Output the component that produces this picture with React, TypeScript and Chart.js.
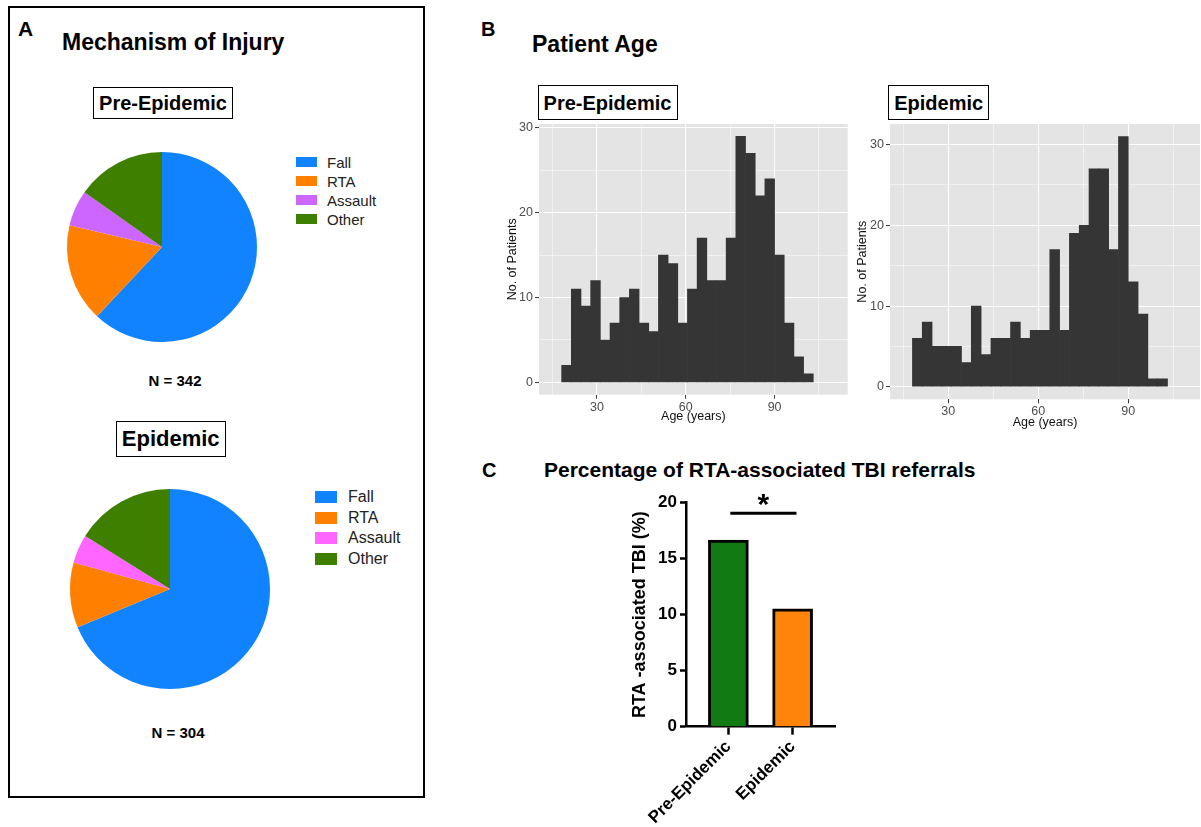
import React, { useEffect, useRef } from "react";
import { Chart, registerables } from "chart.js";

Chart.register(...registerables);

const FONT = "'Liberation Sans', Arial, Helvetica, sans-serif";
Chart.defaults.font.family = FONT;

// ---------- Panel A: mechanism of injury ----------
const injuryLabels = ["Fall", "RTA", "Assault", "Other"];
const preInjuryCounts = [212, 57, 21, 52];
const epiInjuryCounts = [209, 32, 14, 49];
const preInjuryColors = ["#1183FF", "#FF8000", "#CC66FF", "#3F7F00"];
const epiInjuryColors = ["#1183FF", "#FF8000", "#FF66FF", "#3F7F00"];
const preTotal = 342;
const epiTotal = 304;

// ---------- Panel B: patient age histograms ----------
const AGE_BIN_START = 18.05;
const AGE_BIN_WIDTH = 3.27;
const preAgeCounts = [2, 11, 9, 12, 5, 7, 10, 11, 7, 6, 15, 14, 7, 11, 17, 12, 12, 17, 29, 27, 22, 24, 15, 7, 3, 1];
const epiAgeCounts = [6, 8, 5, 5, 5, 3, 10, 4, 6, 6, 8, 6, 7, 7, 17, 7, 19, 20, 27, 27, 17, 31, 13, 9, 1, 1];
const ageTicks = [15, 30, 45, 60, 75, 90, 105];
const ageMajorTicks = [30, 60, 90];
const countTicks = [0, 5, 10, 15, 20, 25, 30];
const countMajorTicks = [0, 10, 20, 30];

// ---------- Panel C: RTA percentage ----------
const periodLabels = ["Pre-Epidemic", "Epidemic"];
const rtaPercent = [16.67, 10.53];
const rtaColors = ["#127A12", "#FF840C"];
const rtaTicks = [0, 5, 10, 15, 20];
const sigFrom = 0.03;
const sigTo = 1.06;
const sigLevel = 19.05;
const sigLabel = "*";

function ChartBox({ left, top, width, height, make }: any) {
  const ref = useRef<HTMLCanvasElement>(null);
  useEffect(() => {
    const chart = new Chart(ref.current as HTMLCanvasElement, make());
    return () => chart.destroy();
  }, []);
  return (
    <div style={{ position: "absolute", left, top, width, height }}>
      <canvas ref={ref} width={width} height={height} style={{ display: "block", width, height }} />
    </div>
  );
}

function Text({ left, top, size, children, bold = true, width, align }: any) {
  return (
    <div
      style={{
        position: "absolute",
        left,
        top,
        width,
        textAlign: align,
        fontSize: size,
        lineHeight: 1,
        fontWeight: bold ? "bold" : "normal",
        whiteSpace: "nowrap",
        color: "#000",
      }}
    >
      {children}
    </div>
  );
}

function TitleBox({ left, top, width, height, size, children }: any) {
  return (
    <div
      style={{
        position: "absolute",
        left,
        top,
        width,
        height,
        boxSizing: "border-box",
        border: "1.5px solid #000",
        display: "flex",
        alignItems: "center",
        justifyContent: "center",
        fontSize: size,
        lineHeight: 1,
        fontWeight: "bold",
        whiteSpace: "nowrap",
      }}
    >
      {children}
    </div>
  );
}

function Legend({ left, top, step, boxW, boxH, gap, size, labels, colors }: any) {
  return (
    <div style={{ position: "absolute", left, top }}>
      {labels.map((l: string, i: number) => (
        <div key={l} style={{ height: step, display: "flex", alignItems: "center" }}>
          <div style={{ width: boxW, height: boxH, background: colors[i], marginRight: gap }} />
          <span style={{ fontSize: size, lineHeight: 1, color: "#222" }}>{l}</span>
        </div>
      ))}
    </div>
  );
}

function pieConfig(counts: number[], colors: string[], radius: number): any {
  return {
    type: "pie",
    data: {
      labels: injuryLabels,
      datasets: [{ data: counts, backgroundColor: colors, borderWidth: 0, hoverOffset: 0 }],
    },
    options: {
      animation: false,
      responsive: false,
      events: [],
      radius,
      layout: { padding: 0 },
      plugins: { legend: { display: false }, tooltip: { enabled: false } },
    },
  };
}

const panelBg = {
  id: "panelBg",
  beforeDraw(chart: any) {
    const { ctx, chartArea: a } = chart;
    ctx.save();
    ctx.fillStyle = "#E4E4E4";
    ctx.fillRect(a.left, a.top, a.right - a.left, a.bottom - a.top);
    ctx.restore();
  },
};

function histConfig(counts: number[], o: any): any {
  const data = counts.map((c, i) => ({ x: AGE_BIN_START + AGE_BIN_WIDTH * (i + 0.5), y: c }));
  return {
    type: "bar",
    data: {
      datasets: [
        {
          data,
          backgroundColor: "#353535",
          borderWidth: 0,
          barPercentage: 1,
          categoryPercentage: 1,
        },
      ],
    },
    plugins: [panelBg],
    options: {
      animation: false,
      responsive: false,
      events: [],
      layout: { padding: o.padding },
      plugins: { legend: { display: false }, tooltip: { enabled: false } },
      scales: {
        x: {
          type: "linear",
          offset: false,
          min: o.xMin,
          max: o.xMax,
          afterBuildTicks: (s: any) => {
            s.ticks = ageTicks.map((v) => ({ value: v }));
          },
          ticks: {
            autoSkip: false,
            maxRotation: 0,
            minRotation: 0,
            padding: 1,
            color: "#4D4D4D",
            font: { size: 12.5 },
            callback: (v: number) => (ageMajorTicks.includes(v) ? String(v) : ""),
          },
          grid: {
            offset: false,
            color: "#FFFFFF",
            lineWidth: (c: any) => (ageMajorTicks.includes(c.tick?.value) ? 1.1 : 0.5),
            tickColor: (c: any) => (ageMajorTicks.includes(c.tick?.value) ? "#333333" : "rgba(0,0,0,0)"),
            tickWidth: 1,
            tickLength: 4,
          },
          border: { display: false },
          title: { display: true, text: "Age (years)", color: "#111", font: { size: 12.5 }, padding: 0 },
          afterFit: (s: any) => {
            s.height = o.xHeight;
            s.paddingLeft = 0;
            s.paddingRight = 0;
          },
        },
        y: {
          min: o.yMin,
          max: o.yMax,
          afterBuildTicks: (s: any) => {
            s.ticks = countTicks.map((v) => ({ value: v }));
          },
          ticks: {
            padding: 2,
            color: "#4D4D4D",
            font: { size: 12.5 },
            callback: (v: number) => (countMajorTicks.includes(v) ? String(v) : ""),
          },
          grid: {
            color: "#FFFFFF",
            lineWidth: (c: any) => (countMajorTicks.includes(c.tick?.value) ? 1.1 : 0.5),
            tickColor: (c: any) => (countMajorTicks.includes(c.tick?.value) ? "#333333" : "rgba(0,0,0,0)"),
            tickWidth: 1,
            tickLength: 4,
          },
          border: { display: false },
          title: { display: true, text: "No. of Patients", color: "#111", font: { size: 12.5 }, padding: { top: o.yTitlePad } },
          afterFit: (s: any) => {
            s.width = o.yWidth;
            s.paddingTop = 0;
            s.paddingBottom = 0;
          },
        },
      },
    },
  };
}

const sigPlugin = {
  id: "sig",
  afterDraw(chart: any) {
    const { ctx } = chart;
    const xs = chart.scales.x;
    const ys = chart.scales.y;
    const y = ys.getPixelForValue(sigLevel);
    ctx.save();
    ctx.strokeStyle = "#000";
    ctx.lineWidth = 3;
    ctx.beginPath();
    ctx.moveTo(xs.getPixelForValue(sigFrom), y);
    ctx.lineTo(xs.getPixelForValue(sigTo), y);
    ctx.stroke();
    ctx.fillStyle = "#000";
    ctx.font = `bold 30px ${FONT}`;
    ctx.textAlign = "center";
    ctx.textBaseline = "alphabetic";
    ctx.fillText(sigLabel, xs.getPixelForValue((sigFrom + sigTo) / 2), y + 1);
    ctx.restore();
  },
};

function barConfig(): any {
  return {
    type: "bar",
    data: {
      datasets: [
        {
          data: rtaPercent.map((v, i) => ({ x: i, y: v })),
          backgroundColor: rtaColors,
          borderColor: "#000",
          borderWidth: 3,
          borderSkipped: "bottom",
          barThickness: 40,
        },
      ],
    },
    plugins: [sigPlugin],
    options: {
      animation: false,
      responsive: false,
      events: [],
      layout: { padding: { left: 0, top: 22.7, right: 15, bottom: 0 } },
      plugins: { legend: { display: false }, tooltip: { enabled: false } },
      scales: {
        x: {
          type: "linear",
          offset: false,
          min: -0.66,
          max: 1.66,
          afterBuildTicks: (s: any) => {
            s.ticks = periodLabels.map((_, i) => ({ value: i }));
          },
          ticks: {
            autoSkip: false,
            minRotation: 45,
            maxRotation: 45,
            padding: 2,
            color: "#000",
            font: { size: 17, weight: "bold" },
            callback: (v: number) => periodLabels[v] ?? "",
          },
          grid: { offset: false, drawOnChartArea: false, tickLength: 8, tickColor: "#000", tickWidth: 2.5 },
          border: { color: "#000", width: 2.5 },
          afterFit: (s: any) => {
            s.height = 98.3;
            s.paddingLeft = 0;
            s.paddingRight = 0;
          },
        },
        y: {
          min: 0,
          max: 20,
          afterBuildTicks: (s: any) => {
            s.ticks = rtaTicks.map((v) => ({ value: v }));
          },
          ticks: { padding: 3, color: "#000", font: { size: 17, weight: "bold" } },
          grid: { drawOnChartArea: false, tickLength: 6, tickColor: "#000", tickWidth: 2.5 },
          border: { color: "#000", width: 2.5 },
          title: {
            display: true,
            text: "RTA -associated TBI (%)",
            color: "#000",
            font: { size: 18, weight: "bold" },
            padding: { top: 29.2 },
          },
          afterFit: (s: any) => {
            s.width = 86;
            s.paddingTop = 0;
            s.paddingBottom = 0;
          },
        },
      },
    },
  };
}

export default function App() {
  return (
    <div
      style={{
        position: "fixed",
        left: 0,
        top: 0,
        width: 1201,
        height: 827,
        background: "#fff",
        fontFamily: FONT,
        overflow: "hidden",
      }}
    >
      {/* Panel A */}
      <div
        style={{
          position: "absolute",
          left: 8,
          top: 6,
          width: 417,
          height: 792,
          boxSizing: "border-box",
          border: "2.5px solid #000",
        }}
      />
      <Text left={18} top={18} size={21}>A</Text>
      <Text left={62} top={31} size={23}>Mechanism of Injury</Text>
      <TitleBox left={92.7} top={87.3} width={140.6} height={31.7} size={20}>Pre-Epidemic</TitleBox>
      <ChartBox left={62} top={147} width={200} height={200} make={() => pieConfig(preInjuryCounts, preInjuryColors, 95)} />
      <Legend left={296} top={152.8} step={19} boxW={21} boxH={10} gap={10} size={15} labels={injuryLabels} colors={preInjuryColors} />
      <Text left={125} top={373} width={100} align="center" size={15}>{`N = ${preTotal}`}</Text>
      <TitleBox left={115.7} top={420.7} width={110} height={36} size={22}>Epidemic</TitleBox>
      <ChartBox left={65} top={484} width={210} height={210} make={() => pieConfig(epiInjuryCounts, epiInjuryColors, 100)} />
      <Legend left={315} top={487} step={20.6} boxW={22} boxH={12} gap={11} size={16} labels={injuryLabels} colors={epiInjuryColors} />
      <Text left={128} top={725} width={100} align="center" size={15}>{`N = ${epiTotal}`}</Text>

      {/* Panel B */}
      <Text left={481} top={19.4} size={20}>B</Text>
      <Text left={532} top={32.5} size={23}>Patient Age</Text>
      <TitleBox left={537.5} top={85} width={140} height={35} size={20}>Pre-Epidemic</TitleBox>
      <TitleBox left={888} top={85} width={101.3} height={35} size={20}>Epidemic</TitleBox>
      <ChartBox
        left={500}
        top={110}
        width={360}
        height={320}
        make={() =>
          histConfig(preAgeCounts, {
            xMin: 10.4,
            xMax: 114.7,
            yMin: -1.45,
            yMax: 30.45,
            padding: { left: 0, top: 14, right: 12.3, bottom: 6.3 },
            xHeight: 29,
            yWidth: 39,
            yTitlePad: 5.0,
          })
        }
      />
      <ChartBox
        left={850}
        top={110}
        width={351}
        height={330}
        make={() =>
          histConfig(epiAgeCounts, {
            xMin: 10.57,
            xMax: 113.9,
            yMin: -1.55,
            yMax: 32.55,
            padding: { left: 0, top: 14, right: 1, bottom: 9.7 },
            xHeight: 31,
            yWidth: 40,
            yTitlePad: 5.0,
          })
        }
      />

      {/* Panel C */}
      <Text left={482} top={460} size={20}>C</Text>
      <Text left={544} top={458.5} size={21}>Percentage of RTA-associated TBI referrals</Text>
      <ChartBox left={600} top={480} width={250} height={345} make={barConfig} />
    </div>
  );
}
